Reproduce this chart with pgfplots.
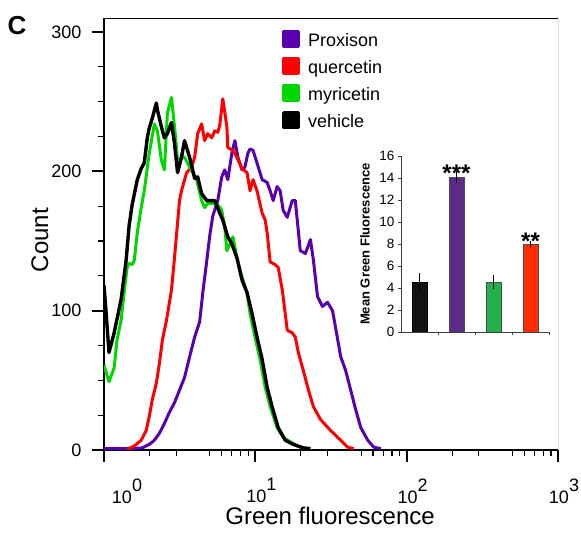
\documentclass[border=0pt]{standalone}
\usepackage{fontspec}
\setmainfont{Liberation Sans}
\usepackage{pgfplots}
\pgfplotsset{compat=1.18}
\definecolor{cPro}{RGB}{88,0,176}
\definecolor{cQue}{RGB}{255,0,0}
\definecolor{cMyr}{RGB}{0,214,0}
\definecolor{barPro}{RGB}{91,44,134}
\definecolor{barMyr}{RGB}{34,178,76}
\definecolor{barQue}{RGB}{255,45,0}

\begin{document}
\begin{tikzpicture}[x=1pt,y=1pt]
\useasboundingbox (0,0) rectangle (581,535);
\node[font=\fontsize{26}{26}\selectfont\bfseries] at (17,509) {C};

% main histogram, x given in decades (log10 of fluorescence)
\begin{axis}[
  at={(104pt,85pt)}, anchor=south west,
  scale only axis, width=454pt, height=432pt,
  xmin=0, xmax=3, ymin=0, ymax=310,
  axis x line*=bottom, axis y line*=left,
  axis line style={line width=1.6pt, -},
  tick align=outside,
  major tick length=12pt, minor tick length=6pt,
  every tick/.style={black, line width=1.8pt},
  every minor tick/.style={black, line width=1.2pt},
  xtick={0,1,2,3},
  xticklabels={{\hspace*{34pt}10\raisebox{12pt}{0}},{10\raisebox{12pt}{1}},{10\raisebox{12pt}{2}},{10\raisebox{12pt}{3}}},
  minor xtick={0.301,0.477,0.699,0.778,0.845,0.903,0.954,
               1.301,1.477,1.699,1.778,1.845,1.903,1.954,
               2.301,2.477,2.699,2.778,2.845,2.903,2.954},
  ytick={0,100,200,300}, minor ytick={25,50,75,125,150,175,225,250,275},
  /pgf/number format/assume math mode=true,
  tick label style={font=\fontsize{18}{18}\selectfont},
  xticklabel style={xshift=6pt, yshift=-13pt},
  yticklabel style={xshift=-7pt},
  xlabel={Green fluorescence},
  ylabel={Count},
  label style={font=\fontsize{24}{24}\selectfont},
  xlabel style={at={(axis description cs:0.498,-0.153)}, anchor=center},
  ylabel style={at={(axis description cs:-0.141,0.486)}, anchor=center},
  legend style={draw=none, fill=none, at={(0.392,0.972)}, anchor=north west,
    inner sep=0pt, row sep=0pt, column sep=8pt,
    font=\fontsize{18}{18}\selectfont,
    nodes={inner sep=0pt, text height=13pt, text depth=11pt}},
  legend cell align=left,
  legend image code/.code={\fill[#1] (0pt,-1pt) rectangle (14.5pt,13.5pt);},
]
\addplot[color=cPro, line width=3pt, line join=round] coordinates {
(0,1) (0.166,1) (0.253,1.5) (0.299,4) (0.333,7) (0.366,12) (0.399,19) (0.432,27)
(0.466,34) (0.499,43) (0.532,52) (0.566,67) (0.599,81) (0.632,92) (0.655,115)
(0.676,133) (0.699,154) (0.719,168) (0.752,179) (0.778,196) (0.798,201) (0.818,194)
(0.845,213) (0.865,222) (0.885,210) (0.912,201) (0.931,203) (0.951,213) (0.965,216)
(0.985,215) (1.011,206) (1.045,194) (1.078,192) (1.098,186) (1.118,179) (1.144,189)
(1.164,186) (1.184,172) (1.211,167) (1.244,179) (1.264,179) (1.277,165) (1.297,143)
(1.331,141) (1.364,151) (1.384,136) (1.411,110) (1.444,103) (1.477,106) (1.510,100)
(1.530,88) (1.564,67) (1.597,57) (1.630,43) (1.663,29) (1.697,16) (1.743,7)
(1.783,2) (1.830,1)};
\addlegendentry{Proxison}
\addplot[color=cQue, line width=3pt, line join=round] coordinates {
(0.153,1) (0.186,2) (0.213,4) (0.246,7) (0.279,14) (0.299,24) (0.319,36) (0.346,48)
(0.366,62) (0.386,79) (0.413,93) (0.446,115) (0.466,138) (0.486,163) (0.499,179)
(0.512,186) (0.546,199) (0.579,203) (0.599,210) (0.619,227) (0.645,234) (0.665,222)
(0.685,227) (0.712,224) (0.732,229) (0.752,228) (0.765,233) (0.785,252) (0.812,232)
(0.818,217) (0.852,215) (0.878,210) (0.912,202) (0.945,199) (0.965,186) (0.985,194)
(1.011,186) (1.045,170) (1.065,165) (1.078,156) (1.098,135) (1.131,133) (1.151,131)
(1.178,115) (1.211,86) (1.244,84) (1.264,81) (1.284,70) (1.317,57) (1.351,43)
(1.384,31) (1.430,22) (1.497,14) (1.564,7) (1.610,2) (1.650,1)};
\addlegendentry{quercetin}
\addplot[color=cMyr, line width=3pt, line join=round] coordinates {
(0,61) (0.013,56) (0.033,49) (0.067,59) (0.086,79) (0.113,93) (0.133,113) (0.153,131)
(0.166,134) (0.186,133) (0.200,136) (0.220,156) (0.246,174) (0.266,186) (0.299,213)
(0.333,234) (0.353,229) (0.379,208) (0.399,201) (0.419,242) (0.446,253) (0.466,232)
(0.486,208) (0.512,210) (0.532,210) (0.566,203) (0.612,194) (0.645,179) (0.665,174)
(0.685,177) (0.712,177) (0.752,176) (0.778,172) (0.798,160) (0.812,143) (0.845,151)
(0.852,153) (0.878,138) (0.912,124) (0.945,113) (0.965,98) (0.998,81) (1.031,65)
(1.065,45) (1.098,31) (1.144,16) (1.184,9) (1.244,5) (1.297,2) (1.344,1)};
\addlegendentry{myricetin}
\addplot[color=black, line width=3.4pt, line join=round] coordinates {
(0,118) (0.013,100) (0.033,70) (0.067,84) (0.113,108) (0.146,136) (0.166,161)
(0.186,176) (0.220,194) (0.246,202) (0.266,206) (0.286,224) (0.299,231) (0.319,238)
(0.346,249) (0.353,244) (0.379,232) (0.399,224) (0.419,227) (0.446,235) (0.466,220)
(0.486,199) (0.512,210) (0.532,222) (0.566,210) (0.599,195) (0.619,196) (0.645,184)
(0.679,179) (0.699,179) (0.732,179) (0.765,170) (0.785,165) (0.818,153) (0.845,148)
(0.878,138) (0.912,122) (0.945,113) (0.978,98) (1.011,81) (1.045,65) (1.078,45)
(1.111,31) (1.151,16) (1.198,7) (1.251,4) (1.317,1.5) (1.364,1)};
\addlegendentry{vehicle}
\draw[line width=0.8pt] (rel axis cs:0,1) -- (rel axis cs:1,1) -- (rel axis cs:1,0);
\end{axis}

% inset bar chart
\begin{axis}[
  at={(401pt,203pt)}, anchor=south west,
  scale only axis, width=148pt, height=176pt,
  xmin=0.5, xmax=4.5, ymin=0, ymax=16,
  axis x line*=bottom, axis y line*=left,
  axis line style={line width=0.8pt, -, black!75},
  tick align=outside, major tick length=3pt,
  every tick/.style={black!75, line width=0.8pt},
  xtick={1.5,2.5,3.5,4.5}, xticklabels={},
  ytick={0,2,...,16},
  /pgf/number format/assume math mode=true,
  yticklabel style={font=\fontsize{13.5}{13.5}\selectfont},
  ylabel={Mean Green Fluorescence},
  ylabel style={font=\fontsize{13}{13}\selectfont\bfseries,
    at={(axis description cs:-0.243,0.5)}, anchor=center},
  every axis plot/.append style={ybar, bar width=15pt, bar shift=0pt, line width=0.5pt},
]
\addplot[fill=black!93, draw=black, error bars/.cd, y dir=both, y explicit,
  error bar style={black, line width=0.7pt}, error mark options={black, line width=0.7pt, mark size=3pt}]
  coordinates {(1,4.5) +- (0,0.55)};
\addplot[fill=barPro, draw=black!70, error bars/.cd, y dir=both, y explicit,
  error bar style={black, line width=0.7pt}, error mark options={black, line width=0.7pt, mark size=3pt}]
  coordinates {(2,14.1) +- (0,0.25)};
\addplot[fill=barMyr, draw=black!70, error bars/.cd, y dir=both, y explicit,
  error bar style={black, line width=0.7pt}, error mark options={black, line width=0.7pt, mark size=3pt}]
  coordinates {(3,4.55) +- (0,0.4)};
\addplot[fill=barQue, draw=black!70, error bars/.cd, y dir=both, y explicit,
  error bar style={black, line width=0.7pt}, error mark options={black, line width=0.7pt, mark size=3pt}]
  coordinates {(4,7.95) +- (0,0.08)};
\node[anchor=base, font=\fontsize{24}{24}\selectfont\bfseries] at (axis cs:2,13.7) {***};
\node[anchor=base, font=\fontsize{24}{24}\selectfont\bfseries] at (axis cs:4,7.5) {**};
\end{axis}
\end{tikzpicture}
\end{document}
